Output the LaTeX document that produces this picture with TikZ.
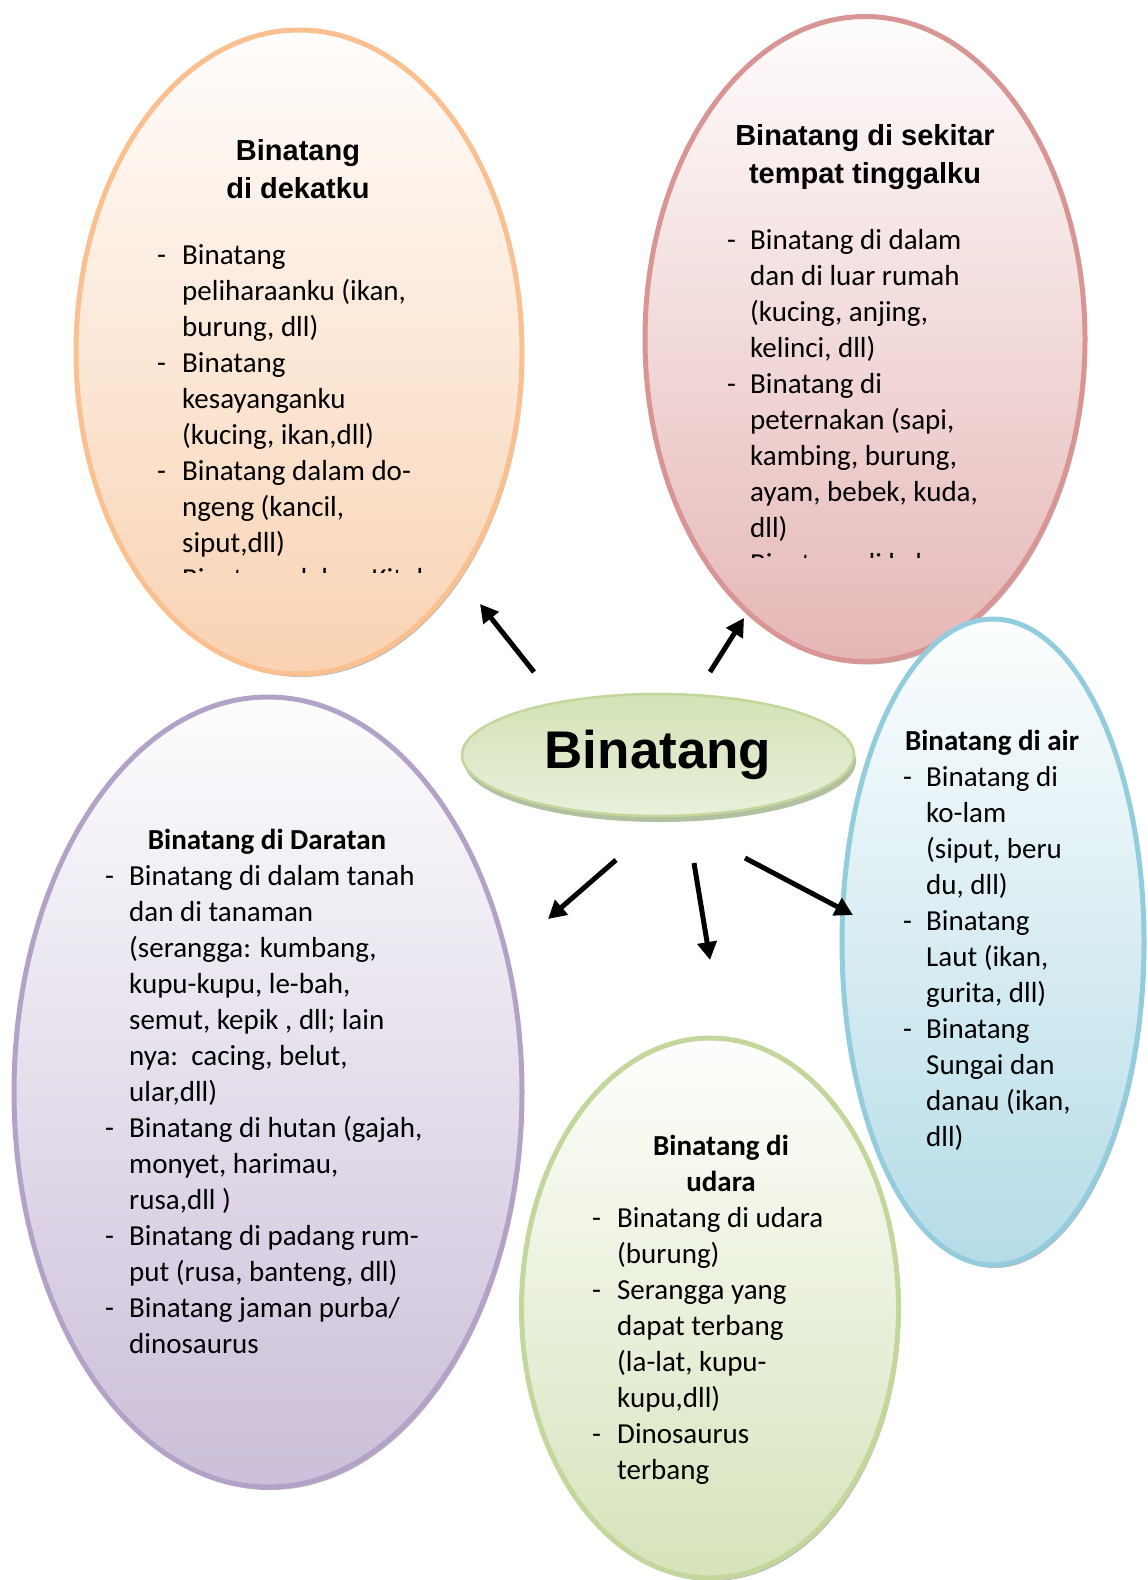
\documentclass[tikz,border=0pt]{standalone}
\usepackage{fontspec}
\setmainfont{Carlito}
\newfontfamily\arialfont{Liberation Sans}
\usetikzlibrary{shapes.geometric,arrows.meta,shadows}
\definecolor{orline}{HTML}{FAC090}
\definecolor{orfill}{HTML}{F9D2B2}
\definecolor{redline}{HTML}{D99594}
\definecolor{redfill}{HTML}{E5B7B6}
\definecolor{blueline}{HTML}{93CDDD}
\definecolor{bluefill}{HTML}{B5DCE7}
\definecolor{purline}{HTML}{B3A2C7}
\definecolor{purfill}{HTML}{CBBFD9}
\definecolor{grnline}{HTML}{C3D69B}
\definecolor{grnfill}{HTML}{D6E3BB}
\definecolor{ctrdark}{HTML}{D3E2B6}
\definecolor{ctrlight}{HTML}{EEF4E4}
\definecolor{ctrshadow}{HTML}{A9B994}
\tikzset{
  bubble/.style={ellipse, inner sep=0pt, line width=5pt,
    drop shadow={shadow xshift=2pt, shadow yshift=-3pt, fill=black, opacity=0.28}},
  bodytext/.style={anchor=base west, inner sep=0pt, font=\fontsize{29}{36}\selectfont},
  cttl/.style={anchor=base, inner sep=0pt, font=\fontsize{29}{36}\selectfont\bfseries},
  attl/.style={anchor=base, inner sep=0pt, font=\arialfont\fontsize{29}{38.5}\selectfont\bfseries},
  arr/.style={line width=5pt, -{Triangle[length=18pt,width=19pt]}}
}
\begin{document}
\begin{tikzpicture}[x=1pt,y=-1pt]
\useasboundingbox (0,0) rectangle (1148,1580);

% bubbles
\node[bubble, draw=orline, top color=orfill!4, bottom color=orfill,
  minimum width=446, minimum height=644] (e1) at (299,352) {};
\node[bubble, draw=redline, top color=redfill!4, bottom color=redfill,
  minimum width=440, minimum height=645] (e2) at (865,339) {};
\node[bubble, draw=blueline, top color=bluefill!4, bottom color=bluefill,
  minimum width=302, minimum height=646] (e3) at (993,942) {};
\node[bubble, draw=purline, top color=purfill!4, bottom color=purfill,
  minimum width=508, minimum height=790] (e4) at (268,1092) {};
\node[bubble, draw=grnline, top color=grnfill!4, bottom color=grnfill,
  minimum width=377, minimum height=540] (e5) at (710,1308) {};

% centre
\node[ellipse, inner sep=0pt, draw=grnline, line width=2.5pt,
  shading=axis, shading angle=-40, top color=ctrdark, middle color=ctrlight, bottom color=ctrlight!80!ctrdark,
  drop shadow={shadow xshift=2pt, shadow yshift=-6pt, fill=ctrshadow, opacity=0.9},
  minimum width=392, minimum height=122,
  font=\arialfont\fontsize{53}{60}\selectfont\bfseries] (ctr) at (658,755) {Binatang};

% titles
\node[attl] (t1) at (298,160) {\begin{tabular}[t]{@{}c@{}}Binatang\\di dekatku\end{tabular}};
\node[attl] (t2) at (865,145) {\begin{tabular}[t]{@{}c@{}}Binatang di sekitar\\tempat tinggalku\end{tabular}};
\node[cttl] (t3) at (992,750) {Binatang di air};
\node[cttl] (t4) at (267,849) {Binatang di Daratan};
\node[cttl] (t5) at (721,1155) {\begin{tabular}[t]{@{}c@{}}Binatang di\\udara\end{tabular}};

% body texts
\begin{scope}
\clip (0,0) rectangle (640,572);
\node[bodytext] (b1) at (157,264) {\begin{tabular}[t]{@{}p{25pt}@{}l@{}}
- & Binatang\\
  & peliharaanku (ikan,\\
  & burung, dll)\\
- & Binatang\\
  & kesayanganku\\
  & (kucing, ikan,dll)\\
- & Binatang dalam do-\\
  & ngeng (kancil,\\
  & siput,dll)\\
- & Binatang dalam Kitab
\end{tabular}};
\end{scope}

\begin{scope}
\clip (640,0) rectangle (1148,557.5);
\node[bodytext] (b2) at (727,249) {\begin{tabular}[t]{@{}p{23pt}@{}l@{}}
- & Binatang di dalam\\
  & dan di luar rumah\\
  & (kucing, anjing,\\
  & kelinci, dll)\\
- & Binatang di\\
  & peternakan (sapi,\\
  & kambing, burung,\\
  & ayam, bebek, kuda,\\
  & dll)\\
- & Binatang di kebun
\end{tabular}};
\end{scope}

\node[bodytext] (b3) at (903,786) {\begin{tabular}[t]{@{}p{23pt}@{}l@{}}
- & Binatang di\\
  & ko-lam\\
  & (siput, beru\\
  & du, dll)\\
- & Binatang\\
  & Laut (ikan,\\
  & gurita, dll)\\
- & Binatang\\
  & Sungai dan\\
  & danau (ikan,\\
  & dll)
\end{tabular}};

\node[bodytext] (b4) at (105,885) {\begin{tabular}[t]{@{}p{24pt}@{}l@{}}
- & Binatang di dalam tanah\\
  & dan di tanaman\\
  & (serangga: kumbang,\\
  & kupu-kupu, le-bah,\\
  & semut, kepik , dll; lain\\
  & nya:\ \ cacing, belut,\\
  & ular,dll)\\
- & Binatang di hutan (gajah,\\
  & monyet, harimau,\\
  & rusa,dll )\\
- & Binatang di padang rum-\\
  & put (rusa, banteng, dll)\\
- & Binatang jaman purba/\\
  & dinosaurus
\end{tabular}};

\node[bodytext] (b5) at (592,1227) {\begin{tabular}[t]{@{}p{25pt}@{}l@{}}
- & Binatang di udara\\
  & (burung)\\
- & Serangga yang\\
  & dapat terbang\\
  & (la-lat, kupu-\\
  & kupu,dll)\\
- & Dinosaurus\\
  & terbang
\end{tabular}};

% arrows
\coordinate (a1s) at (534,672); \coordinate (a1e) at (480,604);
\coordinate (a2s) at (710,672); \coordinate (a2e) at (744,618);
\coordinate (a3s) at (616,860); \coordinate (a3e) at (548,919);
\coordinate (a4s) at (694,863); \coordinate (a4e) at (710,960);
\coordinate (a5s) at (745,858); \coordinate (a5e) at (853,915);
\draw[arr] (a1s) -- (a1e);
\draw[arr] (a2s) -- (a2e);
\draw[arr] (a3s) -- (a3e);
\draw[arr] (a4s) -- (a4e);
\draw[arr] (a5s) -- (a5e);
\end{tikzpicture}
\end{document}
